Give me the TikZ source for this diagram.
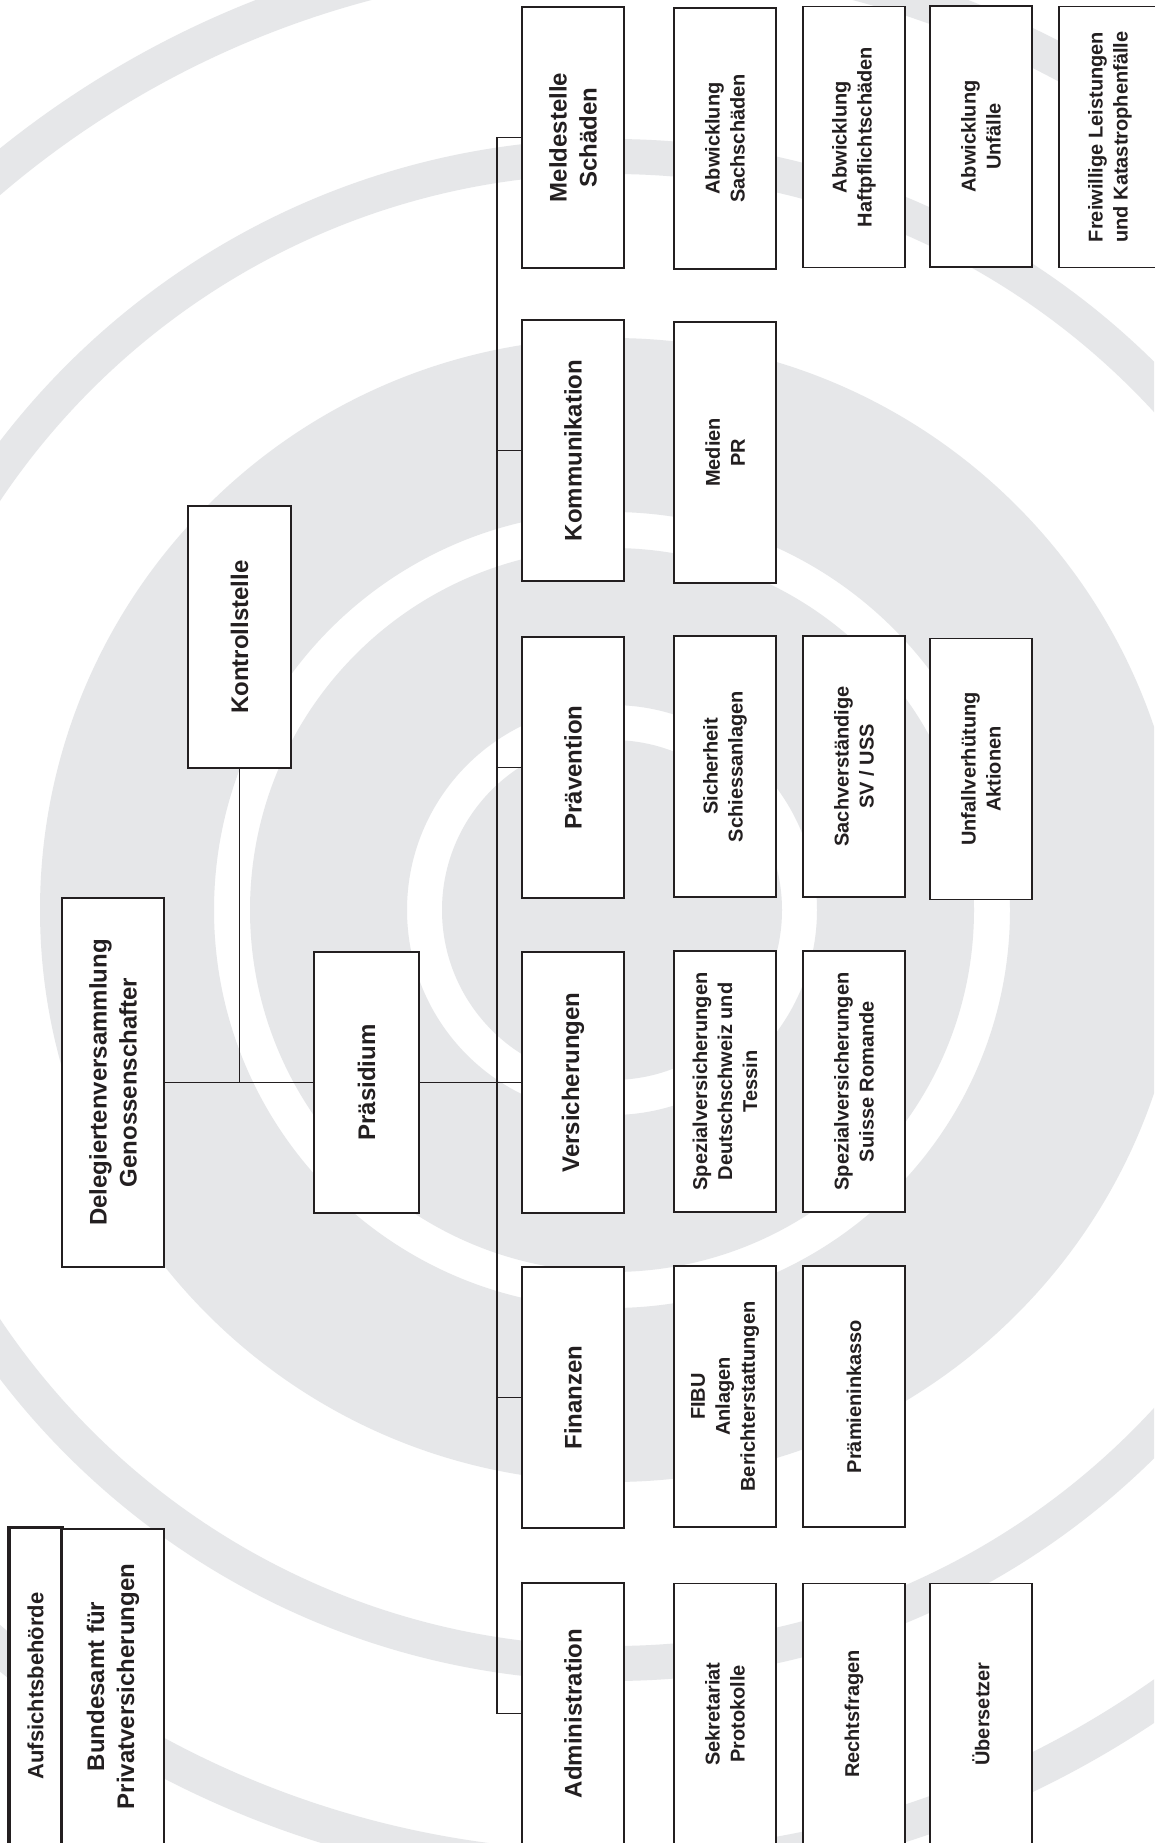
\documentclass[tikz,border=0pt]{standalone}
\usepackage{fontspec}
\setmainfont{Liberation Sans}
\definecolor{ringgrey}{RGB}{230,231,233}
\definecolor{ink}{RGB}{35,31,32}
\begin{document}
\begin{tikzpicture}[x=1pt,y=-1pt,
  box/.style={draw=ink, line width=1.6pt, fill=white, rotate=90, inner sep=0pt,
    align=center, text=ink, font=\bfseries\fontsize{24}{30}\selectfont},
  mainbox/.style={box, minimum width=261pt, minimum height=102pt},
  subbox/.style={box, minimum width=261pt, minimum height=102pt,
    font=\bfseries\fontsize{20}{25}\selectfont},
  link/.style={draw=ink, line width=1.5pt},
  ring/.style={fill=ringgrey, even odd rule}]
\useasboundingbox (0,0) rectangle (1154,1843);
\begin{scope}
\clip (0,0) rectangle (1154,1843);
\fill[white] (0,0) rectangle (1154,1843);
\coordinate (rc) at (612,910);
\fill[ring] (rc) circle (977pt) (rc) circle (941pt);
\fill[ring] (rc) circle (771pt) (rc) circle (736pt);
\fill[ring] (rc) circle (572pt) (rc) circle (398pt) (rc) circle (362pt)
  (rc) circle (205pt) (rc) circle (170pt);
\end{scope}

% left side
\node[box, minimum width=317pt, minimum height=53pt, line width=3.5pt,
  font=\bfseries\fontsize{22}{27}\selectfont] (aufsicht) at (35.5,1686) {Aufsichtsbehörde};
\node[box, minimum width=315pt, minimum height=102pt] (bundesamt) at (113,1686.5) {Bundesamt für\\Privatversicherungen};
\node[box, minimum width=369pt, minimum height=102pt] (deleg) at (113,1082.5) {Delegiertenversammlung\\Genossenschafter};
\node[box, minimum width=262pt, minimum height=103pt] (kontroll) at (239.5,637) {Kontrollstelle};
\node[box, minimum width=261pt, minimum height=105pt] (praes) at (366.5,1082.5) {Präsidium};

% column 1
\node[mainbox] (melde) at (573,137.5) {Meldestelle\\Schäden};
\node[mainbox] (komm) at (573,450.5) {Kommunikation};
\node[mainbox] (praev) at (573,767.5) {Prävention};
\node[mainbox] (vers) at (573,1082.5) {Versicherungen};
\node[mainbox] (fin) at (573,1397.5) {Finanzen};
\node[mainbox] (admin) at (573,1713.5) {Administration};

% column 2
\node[subbox] (sach) at (725,138.5) {Abwicklung\\Sachschäden};
\node[subbox] (medien) at (725,452.5) {Medien\\PR};
\node[subbox] (sicher) at (725,766.5) {Sicherheit\\Schiessanlagen};
\node[subbox] (spezd) at (725,1081.5) {Spezialversicherungen\\Deutschschweiz und\\Tessin};
\node[subbox] (fibu) at (725,1396.5) {FIBU\\Anlagen\\Berichterstattungen};
\node[subbox] (sekr) at (725,1714) {Sekretariat\\Protokolle};

% column 3
\node[subbox] (haft) at (854,137) {Abwicklung\\Haftpflichtschäden};
\node[subbox] (sachv) at (854,766.5) {Sachverständige\\SV / USS};
\node[subbox] (spezr) at (854,1081.5) {Spezialversicherungen\\Suisse Romande};
\node[subbox] (praem) at (854,1396.5) {Prämieninkasso};
\node[subbox] (recht) at (854,1714) {Rechtsfragen};

% column 4
\node[subbox] (unf) at (981,136.5) {Abwicklung\\Unfälle};
\node[subbox] (unfv) at (981,769) {Unfallverhütung\\Aktionen};
\node[subbox] (uebers) at (981,1714) {Übersetzer};

% column 5
\node[subbox] (freiw) at (1110,137) {Freiwillige Leistungen\\und Katastrophenfälle};

% connectors
\coordinate (bustop) at (497,137.5);
\coordinate (busbot) at (497,1713.5);
\draw[link] (bustop) -- (busbot);
\draw[link] (deleg.south) -- (praes.north);
\draw[link] (kontroll.west) -- (kontroll.west |- deleg.south);
\draw[link] (praes.south) -- (praes.south -| bustop);
\foreach \n in {melde,komm,praev,vers,fin,admin}
  \draw[link] (\n.north) -- (\n.north -| bustop);
\end{tikzpicture}
\end{document}
